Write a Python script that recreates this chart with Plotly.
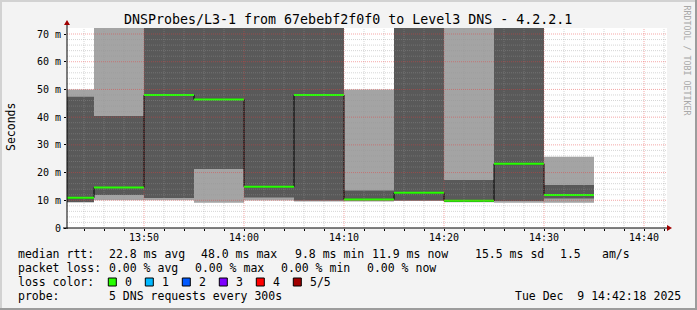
import plotly.graph_objects as go
import pandas as pd

# ---------------- data ----------------
bucket_start = ["2025-12-09 13:40:00", "2025-12-09 13:45:00", "2025-12-09 13:50:00",
                "2025-12-09 13:55:00", "2025-12-09 14:00:00", "2025-12-09 14:05:00",
                "2025-12-09 14:10:00", "2025-12-09 14:15:00", "2025-12-09 14:20:00",
                "2025-12-09 14:25:00", "2025-12-09 14:30:00"]
bucket_end = "2025-12-09 14:35:00"
# sorted pings (ms) per 5-minute bucket; values above ~72 ms are off-chart estimates
ping1 = [9.2, 10.0, 10.0, 9.1, 9.9, 9.6, 9.6, 9.7, 9.3, 9.1, 9.1]
ping2 = [9.4, 11.9, 10.8, 21.3, 11.0, 9.9, 9.9, 9.9, 9.4, 9.7, 10.6]
median = [10.9, 14.6, 48.0, 46.4, 14.9, 48.0, 10.3, 12.7, 9.8, 23.2, 11.9]
ping4 = [47.4, 40.4, 85.0, 85.0, 85.0, 85.0, 13.5, 85.0, 17.3, 85.0, 15.5]
ping5 = [50.0, 90.0, 95.0, 95.0, 95.0, 95.0, 50.0, 95.0, 85.0, 95.0, 25.7]
loss = [0, 0, 0, 0, 0, 0, 0, 0, 0, 0, 0]

loss_labels = ["0", "1", "2", "3", "4", "5/5"]
loss_colors = ["#26ff00", "#00b8ff", "#0059ff", "#7e00ff", "#ff0000", "#a10000"]

y_ticks = [0, 10, 20, 30, 40, 50, 60, 70]
y_ticktext = ["0", "10 m", "20 m", "30 m", "40 m", "50 m", "60 m", "70 m"]
x_range = ["2025-12-09 13:42:18", "2025-12-09 14:42:18"]
y_max = 72.17

title = "DNSProbes/L3-1 from 67ebebf2f0f0 to Level3 DNS - 4.2.2.1"
legend_rows = [
    [("median rtt:", 16), ("22.8 ms avg", 107.3), ("48.0 ms max", 199.3), ("9.8 ms min", 293.3),
     ("11.9 ms now", 370), ("15.5 ms sd", 472.7), ("1.5", 558.3), ("am/s", 600)],
    [("packet loss:", 16), ("0.00 % avg", 107.3), ("0.00 % max", 193.3), ("0.00 % min", 279.3),
     ("0.00 % now", 365)],
    [("loss color:", 16)],
    [("probe:", 16), ("5 DNS requests every 300s", 107.3), ("Tue Dec  9 14:42:18 2025", 513.3)],
]
legend_row_y = [254.3, 268.3, 282, 296.3]
loss_box_x = [108.3, 145.3, 182.3, 219.3, 256.3, 293.3]

# ---------------- layout geometry ----------------
W, H = 697, 310
L, R, T, B = 67, 667, 28, 228
FONT = "DejaVu Sans Mono"


def pxx(p):
    return (p - L) / (R - L)


def pxy(p):
    return (B - p) / (B - T)


LIGHT = "#a4a4a4"
DARK = "#595959"

sx = bucket_start + [bucket_end]


def step(v):
    return v + [v[-1]]


fig = go.Figure()
fig.add_trace(go.Scatter(x=sx, y=step(ping1), mode="lines", line=dict(width=0, shape="hv"),
                         hoverinfo="skip", showlegend=False))
fig.add_trace(go.Scatter(x=sx, y=step(ping5), mode="lines", line=dict(width=0, shape="hv"),
                         fill="tonexty", fillcolor=LIGHT, hoverinfo="skip", showlegend=False))
fig.add_trace(go.Scatter(x=sx, y=step(ping2), mode="lines", line=dict(width=0, shape="hv"),
                         hoverinfo="skip", showlegend=False))
fig.add_trace(go.Scatter(x=sx, y=step(ping4), mode="lines", line=dict(width=0, shape="hv"),
                         fill="tonexty", fillcolor=DARK, hoverinfo="skip", showlegend=False))
fig.add_trace(go.Scatter(x=sx, y=step(median), mode="lines",
                         line=dict(width=1, shape="hv", color="#000000"),
                         hoverinfo="skip", showlegend=False))
# coloured median segments by loss
for lvl, col in enumerate(loss_colors):
    gx, gy = [], []
    for i in range(len(median)):
        if min(loss[i], 5) == lvl:
            gx += [sx[i], sx[i + 1], None]
            gy += [median[i], median[i], None]
    if gx:
        fig.add_trace(go.Scatter(x=gx, y=gy, mode="lines", line=dict(width=2, color=col),
                                 hoverinfo="skip", showlegend=False))

shapes = []
# grid drawn over the smoke (as rrdtool does)
minor_t = pd.date_range("2025-12-09 13:44:00", "2025-12-09 14:42:00", freq="2min")
for t in minor_t:
    major = (t.minute % 10 == 0)
    shapes.append(dict(type="line", xref="x", yref="y domain", x0=t, x1=t, y0=0, y1=1,
                       layer="above",
                       line=dict(width=1, dash="1px,1px",
                                 color="rgba(230,60,60,0.45)" if major else "rgba(150,150,150,0.40)")))
for v in range(2, 72, 2):
    major = (v % 10 == 0)
    shapes.append(dict(type="line", xref="x domain", yref="y", x0=0, x1=1, y0=v, y1=v,
                       layer="above",
                       line=dict(width=1, dash="1px,1px",
                                 color="rgba(230,60,60,0.45)" if major else "rgba(150,150,150,0.40)")))

# axes lines and arrows
shapes.append(dict(type="line", xref="paper", yref="paper", x0=pxx(L), x1=pxx(L), y0=pxy(B + 1), y1=pxy(22),
                   line=dict(color="black", width=1), layer="above"))
shapes.append(dict(type="line", xref="paper", yref="paper", x0=pxx(L - 4), x1=pxx(669), y0=pxy(B), y1=pxy(B),
                   line=dict(color="black", width=1), layer="above"))
shapes.append(dict(type="path", xref="paper", yref="paper",
                   path=f"M {pxx(64)},{pxy(25)} L {pxx(70)},{pxy(25)} L {pxx(67)},{pxy(20)} Z",
                   fillcolor="#a10000", line=dict(width=0), layer="above"))
shapes.append(dict(type="path", xref="paper", yref="paper",
                   path=f"M {pxx(667)},{pxy(225)} L {pxx(667)},{pxy(231)} L {pxx(672)},{pxy(228)} Z",
                   fillcolor="#a10000", line=dict(width=0), layer="above"))

# frame
shapes.append(dict(type="rect", xref="paper", yref="paper", x0=pxx(0), x1=pxx(W), y0=pxy(0), y1=pxy(2),
                   fillcolor="#d2d2d2", line=dict(width=0), layer="below"))
shapes.append(dict(type="rect", xref="paper", yref="paper", x0=pxx(0), x1=pxx(2), y0=pxy(0), y1=pxy(H),
                   fillcolor="#d2d2d2", line=dict(width=0), layer="below"))
shapes.append(dict(type="rect", xref="paper", yref="paper", x0=pxx(W - 2), x1=pxx(W), y0=pxy(0), y1=pxy(H),
                   fillcolor="#9c9c9c", line=dict(width=0), layer="below"))
shapes.append(dict(type="rect", xref="paper", yref="paper", x0=pxx(0), x1=pxx(W), y0=pxy(H - 2), y1=pxy(H),
                   fillcolor="#9c9c9c", line=dict(width=0), layer="below"))

# loss colour boxes
for bx, col in zip(loss_box_x, loss_colors):
    shapes.append(dict(type="rect", xref="paper", yref="paper", x0=pxx(bx), x1=pxx(bx + 8),
                       y0=pxy(legend_row_y[2] - 4), y1=pxy(legend_row_y[2] + 4),
                       fillcolor=col, line=dict(color="black", width=1), layer="above"))

ann = []
ann.append(dict(text=title, xref="paper", yref="paper", x=pxx(348), y=pxy(19.5), showarrow=False,
                xanchor="center", yanchor="middle", font=dict(family=FONT, size=13.3, color="black")))
ann.append(dict(text="Seconds", xref="paper", yref="paper", x=pxx(11), y=pxy(127), showarrow=False,
                textangle=-90, xanchor="center", yanchor="middle",
                font=dict(family=FONT, size=11.5, color="black")))
ann.append(dict(text="RRDTOOL / TOBI OETIKER", xref="paper", yref="paper", x=pxx(686.5), y=pxy(60),
                showarrow=False, textangle=90, xanchor="center", yanchor="middle",
                font=dict(family=FONT, size=8.3, color="#a8a8a8")))
for row, yy in zip(legend_rows, legend_row_y):
    for txt, xx in row:
        ann.append(dict(text=txt.replace(" ", "&nbsp;"), xref="paper", yref="paper", x=pxx(xx), y=pxy(yy),
                        showarrow=False, xanchor="left", yanchor="middle",
                        font=dict(family=FONT, size=11.5, color="black")))
for bx, lab in zip(loss_box_x, loss_labels):
    ann.append(dict(text=lab, xref="paper", yref="paper", x=pxx(bx + 15), y=pxy(legend_row_y[2]),
                    showarrow=False, xanchor="left", yanchor="middle",
                    font=dict(family=FONT, size=11.5, color="black")))

fig.update_layout(
    width=W, height=H,
    margin=dict(l=L, r=W - R, t=T, b=H - B, pad=0),
    paper_bgcolor="#f3f3f3", plot_bgcolor="#ffffff",
    showlegend=False,
    shapes=shapes, annotations=ann,
    xaxis=dict(range=x_range, type="date", showgrid=False, zeroline=False, showline=False,
               tickvals=pd.date_range("2025-12-09 13:50:00", "2025-12-09 14:40:00", freq="10min"),
               tickformat="%H:%M", ticks="outside", ticklen=2, tickcolor="black",
               ticklabelstandoff=-2,
               tickfont=dict(family=FONT, size=10, color="black"),
               minor=dict(ticks="outside", ticklen=2, tickcolor="black", dtick=120000,
                          tick0="2025-12-09 13:44:00", showgrid=False)),
    yaxis=dict(range=[0, y_max], showgrid=False, zeroline=False, showline=False,
               tickvals=y_ticks, ticktext=y_ticktext, ticks="outside", ticklen=2, tickcolor="black",
               ticklabelstandoff=1,
               tickfont=dict(family=FONT, size=10, color="black")),
)

fig.write_html("out.html")
